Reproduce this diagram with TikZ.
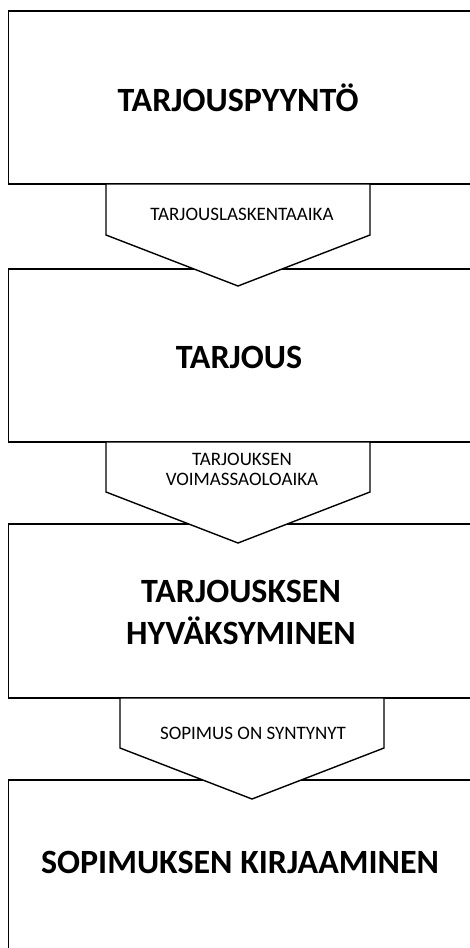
\documentclass[tikz,border=0pt]{standalone}
\usepackage{fontspec}
\setmainfont{Carlito}
\begin{document}
\begin{tikzpicture}[x=1pt,y=-1pt,
  boxline/.style={draw=black,line width=1.8pt,fill=white},
  chevline/.style={draw=black,line width=1.4pt,fill=white,line join=miter},
  bigtext/.style={font=\fontsize{34}{42}\selectfont\bfseries,align=center,inner sep=0pt},
  smalltext/.style={font=\fontsize{19}{20}\selectfont,align=center,inner sep=0pt}]
\useasboundingbox (0,0) rectangle (470,948);
% boxes
\path[boxline] (8.5,11) rectangle (485,184);
\path[boxline] (8.5,269) rectangle (485,442);
\path[boxline] (8.5,524) rectangle (485,698);
\path[boxline] (8.5,780) rectangle (485,960);
% chevrons
\path[chevline] (106,184) -- (370,184) -- (370,235) -- (238,286) -- (106,235) -- cycle;
\path[chevline] (106,442) -- (370,442) -- (370,492) -- (238,543) -- (106,492) -- cycle;
\path[chevline] (120,698) -- (384,698) -- (384,748) -- (252,799) -- (120,748) -- cycle;
% texts
\node[bigtext] (t1) at (238,98) {TARJOUSPYYNTÖ};
\node[bigtext] (t2) at (239,357) {TARJOUS};
\node[bigtext] (t3) at (241,612) {TARJOUSKSEN\\HYVÄKSYMINEN};
\node[bigtext] (t4) at (240,862) {SOPIMUKSEN KIRJAAMINEN};
\node[smalltext] (c1) at (242,214) {TARJOUSLASKENTAAIKA};
\node[smalltext] (c2) at (242,469) {TARJOUKSEN\\VOIMASSAOLOAIKA};
\node[smalltext] (c3) at (253,733) {SOPIMUS ON SYNTYNYT};
\end{tikzpicture}
\end{document}
